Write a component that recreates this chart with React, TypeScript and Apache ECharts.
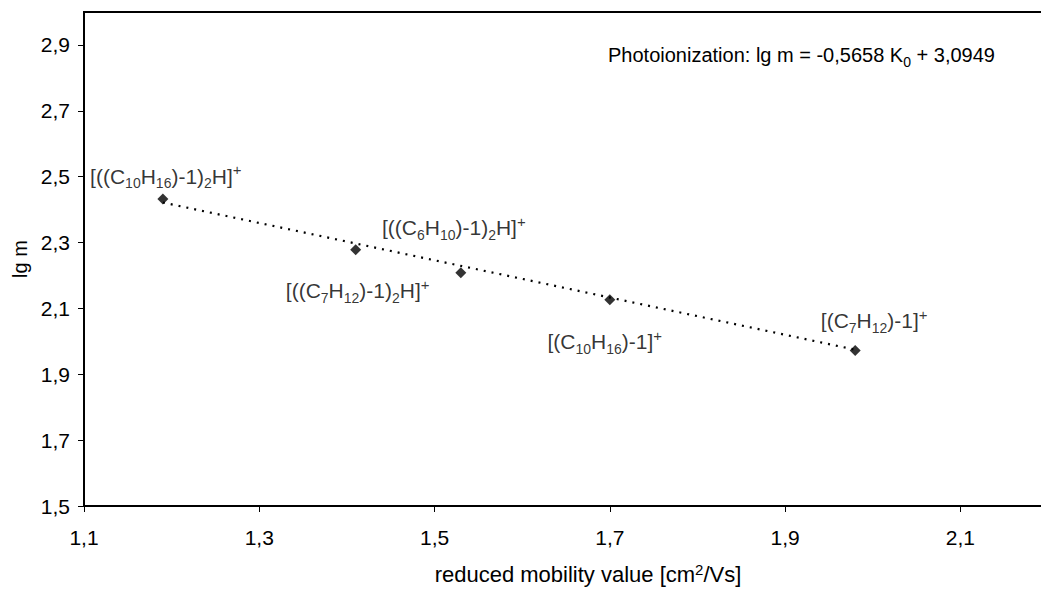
import React, { useEffect, useRef } from "react";
import * as echarts from "echarts";

// ---- data ----
const mobility = [1.19, 1.41, 1.53, 1.7, 1.98];
const lgM = [2.432, 2.278, 2.208, 2.126, 1.972];
const ionLabels = [
  "[((C{sub|10}H{sub|16})-1){sub|2}H]{sup|+}",
  "[((C{sub|7}H{sub|12})-1){sub|2}H]{sup|+}",
  "[((C{sub|6}H{sub|10})-1){sub|2}H]{sup|+}",
  "[(C{sub|10}H{sub|16})-1]{sup|+}",
  "[(C{sub|7}H{sub|12})-1]{sup|+}",
];
const xTicks = [1.1, 1.3, 1.5, 1.7, 1.9, 2.1];
const yTicks = [1.5, 1.7, 1.9, 2.1, 2.3, 2.5, 2.7, 2.9];
const trendSlope = -0.5658;
const trendIntercept = 3.0949;
const equationText = "Photoionization: lg m = -0,5658 K{sub|0} + 3,0949";
const xAxisName = "reduced mobility value [cm{sup|2}/Vs]";
const yAxisName = "lg m";

// label placement relative to each point (styling, not data)
const labelOffsets = [
  [3, -23],
  [2, 41],
  [-7, -45],
  [-5, 42],
  [19, -30],
];

const FONT = '"Liberation Sans", Arial, Helvetica, sans-serif';
const fmt = (v: number) => v.toFixed(1).replace(".", ",");

const richLabel = {
  sub: { fontSize: 14, lineHeight: 19, verticalAlign: "bottom", fontFamily: FONT, color: "#000" },
  sup: { fontSize: 15, lineHeight: 9, verticalAlign: "top", fontFamily: FONT, color: "#000" },
};

export default function App() {
  const ref = useRef<HTMLDivElement>(null);
  useEffect(() => {
    if (!ref.current) return;
    const chart = echarts.init(ref.current, undefined, { renderer: "svg" });
    const xMin = Math.min(...mobility);
    const xMax = Math.max(...mobility);
    const trend = [
      [xMin, trendSlope * xMin + trendIntercept],
      [xMax, trendSlope * xMax + trendIntercept],
    ];
    chart.setOption({
      animation: false,
      backgroundColor: "#fff",
      textStyle: { fontFamily: FONT, color: "#000" },
      grid: {
        left: 84,
        top: 12,
        right: 12,
        bottom: 82,
        show: true,
        borderColor: "#000",
        borderWidth: 2,
        backgroundColor: "transparent",
      },
      xAxis: {
        type: "value",
        min: 1.1,
        max: 2.2,
        name: xAxisName,
        nameLocation: "middle",
        nameGap: 56,
        nameTextStyle: {
          fontSize: 22,
          fontFamily: FONT,
          color: "#000",
          lineHeight: 24,
          padding: [0, 0, 0, 44],
          rich: {
            sup: { fontSize: 15, lineHeight: 9, verticalAlign: "top", fontFamily: FONT, color: "#000" },
          },
        },
        axisLine: { show: true, onZero: false, lineStyle: { color: "#000", width: 2 } },
        axisTick: { show: true, length: 6, lineStyle: { color: "#000", width: 1 }, customValues: xTicks },
        axisLabel: {
          customValues: xTicks,
          formatter: (v: number) => fmt(v),
          fontSize: 21,
          fontFamily: FONT,
          color: "#000",
          margin: 21,
        },
        splitLine: { show: false },
      },
      yAxis: {
        type: "value",
        min: 1.5,
        max: 3.0,
        name: yAxisName,
        nameLocation: "middle",
        nameGap: 52,
        nameTextStyle: { fontSize: 20, fontFamily: FONT, color: "#000" },
        axisLine: { show: true, onZero: false, lineStyle: { color: "#000", width: 2 } },
        axisTick: { show: true, length: 6, lineStyle: { color: "#000", width: 1 }, customValues: yTicks },
        axisLabel: {
          customValues: yTicks,
          formatter: (v: number) => fmt(v),
          fontSize: 21,
          fontFamily: FONT,
          color: "#000",
          margin: 14,
        },
        splitLine: { show: false },
      },
      series: [
        {
          type: "line",
          data: trend,
          symbol: "none",
          silent: true,
          lineStyle: { color: "#000", width: 2.2, type: [2, 6] },
          z: 1,
        },
        {
          type: "scatter",
          symbol: "diamond",
          symbolSize: 11,
          itemStyle: { color: "#000" },
          z: 3,
          data: mobility.map((x, i) => ({
            value: [x, lgM[i]],
            label: {
              show: true,
              position: "inside",
              offset: labelOffsets[i],
              formatter: ionLabels[i],
              fontSize: 21,
              lineHeight: 28,
              fontFamily: FONT,
              color: "#000",
              rich: richLabel,
            },
          })),
        },
      ],
      graphic: [
        {
          type: "text",
          left: 608,
          top: 41,
          style: {
            text: equationText,
            fontSize: 20,
            fontFamily: FONT,
            fill: "#000",
            lineHeight: 28,
            rich: {
              sub: { fontSize: 14, lineHeight: 19, verticalAlign: "bottom", fontFamily: FONT, fill: "#000" },
            },
          },
        },
      ],
    });
    return () => chart.dispose();
  }, []);
  return (
    <div style={{ position: "fixed", left: 0, top: 0, width: 1041, height: 591, overflow: "hidden", background: "#fff" }}>
      <div ref={ref} style={{ width: 1060, height: 591 }} />
    </div>
  );
}
